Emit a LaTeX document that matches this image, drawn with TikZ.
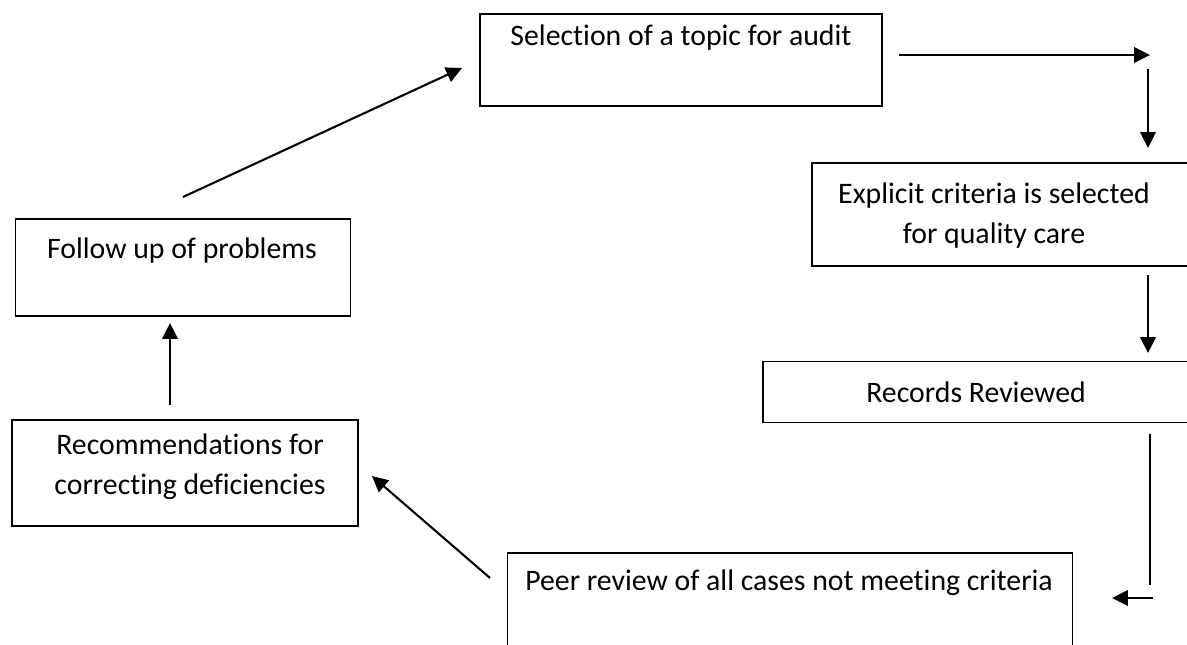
\documentclass[tikz,border=0pt]{standalone}
\usepackage{fontspec}
\setmainfont{Carlito}[Ligatures=NoCommon]
\usepackage{tikz}
\usetikzlibrary{arrows.meta}

\begin{document}
\begin{tikzpicture}[x=0.48pt,y=-0.48pt,
  box/.style={draw, line width=0.65pt, inner sep=0pt},
  txt/.style={align=center, inner sep=0pt, font=\fontsize{14.3}{19.2}\selectfont},
  a/.style={-{Triangle[length=7.6pt,width=7.4pt]}, line width=1pt}]
\useasboundingbox (0,0) rectangle (1187,645);
\begin{scope}
\clip (0,0) rectangle (1187,645);
% boxes
\node[box, minimum width=402*0.48pt, minimum height=92*0.48pt]  (topic)   at (681,60) {};
\node[box, minimum width=390*0.48pt, minimum height=103*0.48pt] (crit)    at (1007,214.5) {};
\node[box, minimum width=440*0.48pt, minimum height=61*0.48pt]  (rec)     at (983,392) {};
\node[box, minimum width=565*0.48pt, minimum height=110*0.48pt] (peer)    at (790,608) {};
\node[box, minimum width=346*0.48pt, minimum height=106*0.48pt] (recom)   at (185,473) {};
\node[box, minimum width=335*0.48pt, minimum height=97*0.48pt]  (follow)  at (183,267.5) {};
\end{scope}
% texts
\node[txt] (topicT)  at (681,38)  {Selection of a topic for audit};
\node[txt] (critT)   at (994,216) {Explicit criteria is selected\\ for quality care};
\node[txt] (recT)    at (976,392) {Records Reviewed};
\node[txt] (peerT)   at (789,583) {Peer review of all cases not meeting criteria};
\node[txt] (recomT)  at (190,467) {Recommendations for\\ correcting deficiencies};
\node[txt] (followT) at (182,251) {Follow up of problems};
% connector ends
\coordinate (p1) at (899,55);   \coordinate (p2) at (1150,55);
\coordinate (p3) at (1148,69);  \coordinate (p4) at (1148,148);
\coordinate (p5) at (1148,275); \coordinate (p6) at (1148,353);
\coordinate (p7) at (1150,434); \coordinate (p8) at (1150,585);
\coordinate (p9) at (1153,598); \coordinate (p10) at (1112,598);
\coordinate (p11) at (490,578); \coordinate (p12) at (372,476);
\coordinate (p13) at (170,405); \coordinate (p14) at (170,323);
\coordinate (p15) at (183,197); \coordinate (p16) at (462,68);
% arrows
\draw[a] (p1) -- (p2);
\draw[a] (p3) -- (p4);
\draw[a] (p5) -- (p6);
\draw[line width=1pt] (p7) -- (p8);
\draw[a] (p9) -- (p10);
\draw[a] (p11) -- (p12);
\draw[a] (p13) -- (p14);
\draw[a] (p15) -- (p16);
\end{tikzpicture}
\end{document}
